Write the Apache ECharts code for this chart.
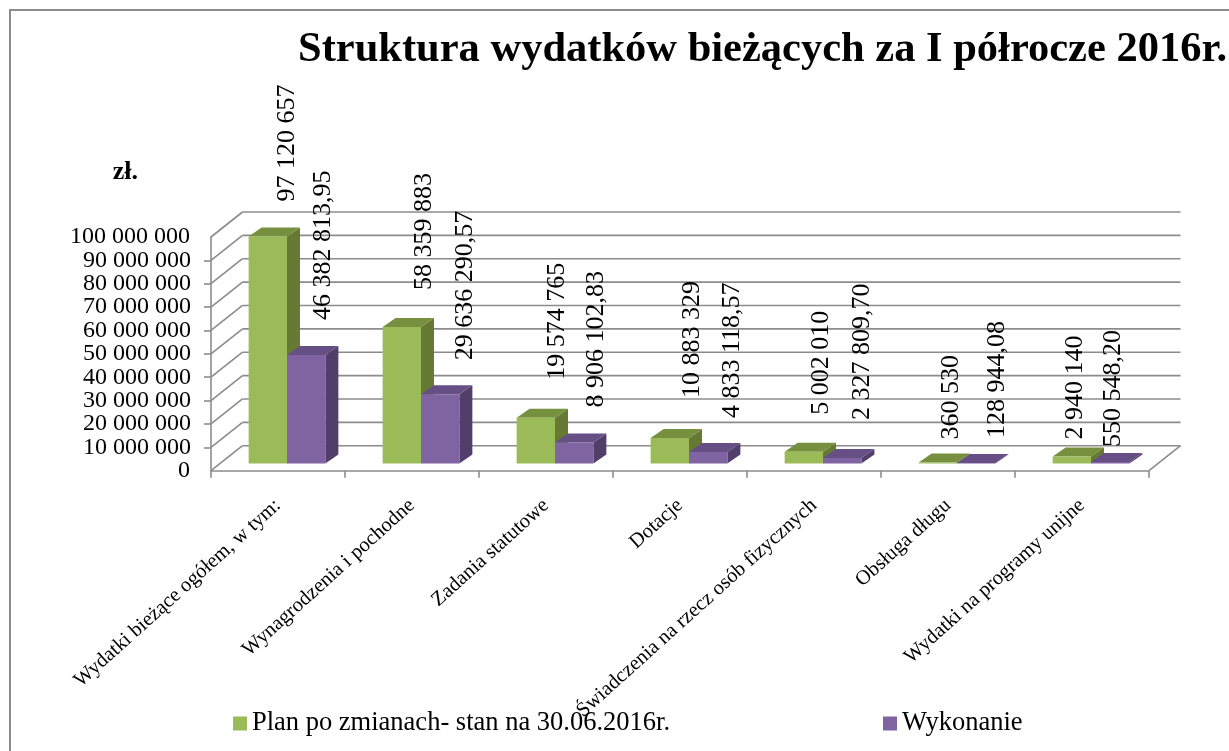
<!DOCTYPE html>
<html><head><meta charset="utf-8">
<style>html,body{margin:0;padding:0;background:#fff}#c{width:1229px;height:751px}</style>
<script src="https://cdn.jsdelivr.net/npm/echarts@6/dist/echarts.min.js"></script>
</head><body><div id="c"></div>
<script>
const categories = ['Wydatki bieżące ogółem, w tym:','Wynagrodzenia i pochodne','Zadania statutowe','Dotacje','Świadczenia na rzecz osób fizycznych','Obsługa długu','Wydatki na programy unijne'];
const planValues = [97120657,58359883,19574765,10883329,5002010,360530,2940140];
const execValues = [46382813.95,29636290.57,8906102.83,4833118.57,2327809.70,128944.08,550548.20];
const yTicks = [0,10000000,20000000,30000000,40000000,50000000,60000000,70000000,80000000,90000000,100000000];

const FONT = '"Liberation Serif","Times New Roman",serif';
const WALL = [31.5,-25], PLANE = [9,-7.3], DEPTH = [13,-9], BAR_FRAC = 38.3/133.8, GRID_COL = '#8c8c8c';
// hand placement of the data labels, as in the source chart (px from the default spot)
const planNudge = [[-2,1],[1,-1],[0,-2],[1,-4],[-4,-1],[-8,13],[-18,19]];
const execNudge = [[-4,1],[4,2],[1,1],[3,2],[-1,-2],[0,11],[-18,21]];
const spaced = s => s.replace(/\B(?=(\d{3})+(?!\d))/g,' ');
const planText = v => spaced(String(v));
const execText = v => { const p = v.toFixed(2).split('.'); return spaced(p[0])+','+p[1]; };

function wall(params, api){
  const v = api.value(1), cs = params.coordSys, y = api.coord([0,v])[1];
  const L = cs.x, R = cs.x+cs.width, s = {stroke:GRID_COL,lineWidth:1.6,fill:null};
  const kids = [
    {type:'line',shape:{x1:L,y1:y,x2:L+WALL[0],y2:y+WALL[1]},style:s},
    {type:'line',shape:{x1:L+WALL[0],y1:y+WALL[1],x2:R+WALL[0],y2:y+WALL[1]},style:s}
  ];
  if(v===0) kids.push({type:'line',shape:{x1:R,y1:y,x2:R+WALL[0],y2:y+WALL[1]},style:s});
  return {type:'group',children:kids};
}
function bar(side, c, fmt, nudge){
  return function(params, api){
    const i = api.value(0), v = api.value(1);
    const p = api.coord([i,v]), b = api.coord([i,0]);
    const w = api.size([1,0])[0]*BAR_FRAC;
    const cx = p[0]+PLANE[0];
    const x0 = side<0 ? cx-w : cx, x1 = x0+w;
    const yt = p[1]+PLANE[1], yb = b[1]+PLANE[1];
    const dx = DEPTH[0], dy = DEPTH[1];
    return {type:'group',children:[
      {type:'polygon',shape:{points:[[x1,yb],[x1+dx,yb+dy],[x1+dx,yt+dy],[x1,yt]]},style:{fill:c.side}},
      {type:'polygon',shape:{points:[[x0,yt],[x0+dx,yt+dy],[x1+dx,yt+dy],[x1,yt]]},style:{fill:c.top}},
      {type:'rect',shape:{x:x0,y:yt,width:w,height:yb-yt},style:{fill:c.front}},
      {type:'text',x:x0+w/2+21+nudge[i][0],y:yt-36+nudge[i][1],rotation:Math.PI/2,z2:100,
        style:{text:fmt(v),fill:'#000',font:'26px '+FONT,textAlign:'left',textVerticalAlign:'middle'}}
    ]};
  };
}
const yLabel = {color:'#000',fontFamily:FONT,fontSize:24,hideOverlap:false,formatter:v=>spaced(String(v))};
const chart = echarts.init(document.getElementById('c'),null,{renderer:'canvas'});
chart.setOption({
  animation:false,
  backgroundColor:'#fff',
  textStyle:{fontFamily:FONT},
  title:{text:'Struktura wydatków bieżących za I półrocze 2016r.',left:298,top:29,padding:0,
    textStyle:{fontFamily:FONT,fontSize:42.5,fontWeight:'bold',color:'#000'}},
  graphic:[{type:'rect',silent:true,z:-1,shape:{x:10,y:10,width:1400,height:900},style:{fill:null,stroke:'#8c8c8c',lineWidth:2}}],
  legend:{left:233,top:710,padding:0,itemWidth:14,itemHeight:14,itemGap:213,icon:'rect',
    textStyle:{fontFamily:FONT,fontSize:26.5,color:'#000'},
    data:['Plan po zmianach- stan na 30.06.2016r.','Wykonanie']},
  grid:{left:211,top:237,width:938,height:233.7,containLabel:false},
  xAxis:{type:'category',data:categories,
    axisLine:{lineStyle:{color:GRID_COL,width:1.6}},
    axisTick:{show:true,length:7,lineStyle:{color:GRID_COL,width:1.6},alignWithLabel:false},
    axisLabel:{interval:0,rotate:42,margin:32,color:'#000',fontFamily:FONT,fontSize:20.5,overflow:'none',hideOverlap:false},
    splitLine:{show:false}},
  yAxis:[
    {type:'value',position:'left',min:0,max:100000000,interval:10000000,
      name:'zł.',nameLocation:'end',nameGap:52,
      nameTextStyle:{fontFamily:FONT,fontSize:26,fontWeight:'bold',color:'#000',align:'right',padding:[0,73,0,0]},
      axisLine:{show:true,lineStyle:{color:GRID_COL,width:1.6}},
      axisTick:{show:true,length:7,lineStyle:{color:GRID_COL,width:1.6}},
      axisLabel:Object.assign({margin:20,showMinLabel:false,showMaxLabel:false},yLabel),
      splitLine:{show:false}},
    // the tick labels sit closer than their line boxes, so the end labels live on a twin axis
    {type:'value',position:'left',offset:0,min:0,max:100000000,interval:100000000,
      axisLine:{show:false},axisTick:{show:false},splitLine:{show:false},
      axisLabel:Object.assign({margin:21},yLabel)}
  ],
  series:[
    {type:'custom',name:'wall',silent:true,z:1,clip:false,renderItem:wall,data:yTicks.map(t=>[0,t]),tooltip:{show:false}},
    {type:'custom',name:'Plan po zmianach- stan na 30.06.2016r.',z:2,clip:false,itemStyle:{color:'#9BBB59'},
      renderItem:bar(-1,{front:'#9BBB59',side:'#667A33',top:'#76903F'},planText,planNudge),
      data:planValues.map((v,i)=>[i,v])},
    {type:'custom',name:'Wykonanie',z:3,clip:false,itemStyle:{color:'#8064A2'},
      renderItem:bar(1,{front:'#8064A2',side:'#523E6A',top:'#654F84'},execText,execNudge),
      data:execValues.map((v,i)=>[i,v])}
  ]
});
</script></body></html>
